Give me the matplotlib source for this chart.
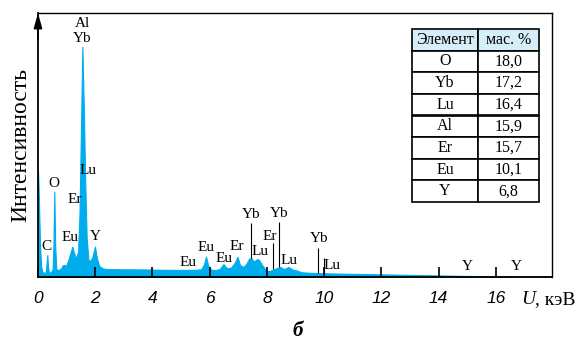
import numpy as np
import matplotlib.pyplot as plt

# EDS spectrum (energy in keV, intensity in relative units, axis top = 100)
energy = [0.0, 0.03, 0.07, 0.11, 0.16, 0.22, 0.27, 0.30, 0.325, 0.35, 0.38, 0.45, 0.51,
          0.54, 0.57, 0.60, 0.64, 0.72, 0.80, 0.87, 0.94, 0.99, 1.06, 1.13, 1.20, 1.26,
          1.33, 1.40, 1.45, 1.50, 1.55, 1.60, 1.65, 1.70, 1.76, 1.82, 1.90, 1.99, 2.06,
          2.14, 2.25, 2.40, 2.7, 3.0, 3.5, 4.0, 4.5, 5.0, 5.4, 5.7, 5.80, 5.87, 5.95,
          6.05, 6.2, 6.35, 6.48, 6.60, 6.75, 6.88, 6.97, 7.06, 7.18, 7.28, 7.38, 7.45,
          7.55, 7.65, 7.72, 7.85, 8.0, 8.1, 8.25, 8.46, 8.6, 8.75, 8.9, 9.04, 9.2,
          9.5, 10.0, 11.0, 12.0, 13.0, 14.0, 15.0, 16.0, 17.0, 18.0]
intensity = [40.0, 30.0, 12.0, 4.0, 1.8, 1.6, 1.8, 5.0, 8.3, 4.0, 1.6, 1.8, 3.0,
             12.0, 32.3, 12.0, 3.0, 2.6, 3.2, 4.5, 4.6, 4.2, 6.5, 9.0, 11.5, 9.0,
             7.1, 9.5, 24.0, 55.0, 87.2, 64.0, 36.0, 15.0, 6.6, 6.0, 7.5, 11.5, 7.0,
             4.2, 3.3, 3.0, 3.0, 2.9, 2.9, 2.8, 2.7, 2.7, 2.7, 2.9, 4.8, 7.7, 4.2,
             2.8, 2.6, 3.0, 4.9, 3.3, 3.6, 5.5, 7.7, 4.5, 3.8, 5.0, 7.0, 7.2,
             5.8, 6.8, 6.5, 4.2, 2.2, 2.3, 3.0, 3.8, 3.0, 3.8, 2.8, 2.5, 1.8,
             1.6, 1.4, 1.2, 1.0, 0.8, 0.6, 0.4, 0.3, 0.2, 0.2]

# peak labels: element, energy, label height
peak_names = ["Al", "Yb", "Lu", "O", "Er", "Eu", "Y", "C",
              "Eu", "Eu", "Eu", "Er", "Yb", "Lu", "Er", "Yb", "Lu", "Yb", "Lu", "Y", "Y"]
peak_x = [1.54, 1.56, 1.74, 0.56, 1.29, 1.12, 1.99, 0.31,
          5.24, 5.87, 6.50, 6.95, 7.44, 7.76, 8.10, 8.42, 8.77, 9.82, 10.27, 14.99, 16.73]
peak_y = [96.0, 90.5, 40.5, 35.6, 29.2, 14.8, 15.2, 11.4,
          5.4, 11.2, 7.0, 11.4, 23.5, 9.5, 15.5, 23.9, 6.4, 14.4, 4.2, 3.8, 3.8]

# thin marker lines above minor peaks
marker_x = [7.45, 8.22, 8.43, 9.79, 10.0]
marker_top = [20.5, 12.8, 20.9, 10.9, 7.1]

# composition table
elements = ["O", "Yb", "Lu", "Al", "Er", "Eu", "Y"]
mass_pct = ["18,0", "17,2", "16,4", "15,9", "15,7", "10,1", "6,8"]

x_ticks = [0, 2, 4, 6, 8, 10, 12, 14, 16]

serif = "Liberation Serif"
fill_color = "#00adec"

fig = plt.figure(figsize=(5.87, 3.45), dpi=100)
ax = fig.add_axes([38 / 587, 68 / 345, 514 / 587, 264 / 345])

ax.fill_between(energy, intensity, 0, color=fill_color, lw=0.8)
ax.set_xlim(0, 17.96)
ax.set_ylim(0, 100)

# marker lines from the spectrum up
base = np.interp(marker_x, energy, intensity)
ax.vlines(marker_x, base, marker_top, color="black", lw=0.8)

for name, x, y in zip(peak_names, peak_x, peak_y):
    ax.text(x, y, name, ha="center", va="center", family=serif, fontsize=11)

# axes styling
for side in ["top", "right", "bottom", "left"]:
    ax.spines[side].set_linewidth(1.0)
ax.spines["left"].set_linewidth(1.3)
ax.spines["bottom"].set_linewidth(1.3)
ax.set_yticks([])
ax.set_xticks(x_ticks)
ax.set_xticklabels([str(t) for t in x_ticks], fontstyle="italic",
                   family="Liberation Sans", fontsize=12.5)
ax.tick_params(axis="x", direction="in", length=7, width=1.2, pad=10)

# arrow on the intensity axis
ax.annotate("", xy=(0, 1.0), xytext=(0, 0.9), xycoords="axes fraction",
            arrowprops=dict(arrowstyle="-|>,head_length=0.9,head_width=0.25",
                            color="black", lw=1.2, shrinkA=0, shrinkB=0))

fig.text(21 / 587, 1 - 145 / 345, "Интенсивность", rotation=90, ha="center",
         va="center", family=serif, fontsize=17)
fig.text(521 / 587, 1 - 300 / 345, "U", ha="left", va="center", family=serif,
         style="italic", fontsize=14)
fig.text(535 / 587, 1 - 300 / 345, ", кэВ", ha="left", va="center", family=serif,
         fontsize=14)
fig.text(298 / 587, 1 - 331 / 345, "б", ha="center", va="center", family=serif,
         style="italic", weight="bold", fontsize=15)

# table
cells = [[e, m] for e, m in zip(elements, mass_pct)]
tbl = ax.table(cellText=cells, colLabels=["Элемент", "мас. %"], cellLoc="center",
               colWidths=[0.52, 0.48],
               bbox=[(412 - 38) / 514, (277 - 202) / 264, 127 / 514, 173 / 264])
tbl.auto_set_font_size(False)
for (r, c), cell in tbl.get_celld().items():
    cell.set_linewidth(1.2)
    cell.set_edgecolor("black")
    cell.get_text().set_fontfamily(serif)
    cell.get_text().set_fontsize(11.5)
    if r == 0:
        cell.set_facecolor("#d5eef7")

fig.savefig("out.png", dpi=100)
